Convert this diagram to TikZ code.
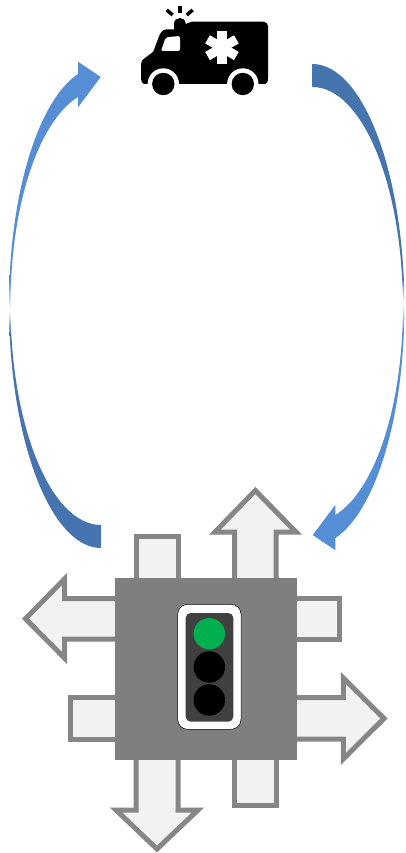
\documentclass[tikz,border=0pt]{standalone}
\usepackage{tikz}
\definecolor{BendDark}{HTML}{4674AE}
\definecolor{BendLight}{HTML}{558ED5}
\definecolor{LaneLine}{HTML}{868686}
\definecolor{LaneFill}{HTML}{F2F2F2}
\definecolor{Junction}{HTML}{7F7F7F}
\definecolor{Housing}{HTML}{404040}
\definecolor{Go}{HTML}{00B050}
\pgfdeclareverticalshading{BendFade}{100bp}{color(0bp)=(BendDark); color(47bp)=(BendDark); color(49.5bp)=(white); color(52.5bp)=(BendLight); color(100bp)=(BendLight)}
\tikzset{
  lane/.style={draw=LaneLine,fill=LaneFill,line width=5pt,miter limit=10},
  bendarrow/.style={shading=BendFade}
}

\begin{document}
\begin{tikzpicture}[x=1pt,y=-1pt]
        \useasboundingbox (0,0) rectangle (406,853);
        % return arrows
        \foreach \a in {0,180}
          \shade[bendarrow,shading angle=\a,rotate around={\a:(206.7,306)}] (101,548) .. controls (50.5,548) and (9,439) .. (9,305) .. controls (9,196) and (37.6,101) .. (78,74) -- (78,61.7) -- (100.7,77) -- (78,107.3) -- (78,97) .. controls (37.9,122) and (10.5,207) .. (10.5,305) .. controls (10.5,426) and (51,525) .. (101,525) -- cycle;
        % lanes
        \draw[lane] (136,590) -- (136,536) -- (178,536) -- (178,590);
        \draw[lane] (234.7,590) -- (234.7,532) -- (215,532) -- (255.3,490.5) -- (296,532) -- (276,532) -- (276,590);
        \draw[lane] (130,598.5) -- (64.5,598.5) -- (64.5,579) -- (25.5,618.7) -- (64.5,658) -- (64.5,639) -- (130,639);
        \draw[lane] (285,598.5) -- (339,598.5) -- (339,639) -- (285,639);
        \draw[lane] (130,697.5) -- (70,697.5) -- (70,739) -- (130,739);
        \draw[lane] (285,697.5) -- (343.3,697.5) -- (343.3,678) -- (384,718.5) -- (343.3,759) -- (343.3,739) -- (285,739);
        \draw[lane] (136,750) -- (136,810) -- (116,810) -- (157,849) -- (198,810) -- (178,810) -- (178,750);
        \draw[lane] (234.7,750) -- (234.7,805.5) -- (276,805.5) -- (276,750);
        \fill[Junction] (115,578) rectangle (297,759.7);
        % signal
        \draw[black,fill=white,line width=0.5pt,rounded corners=10pt] (177.7,604.3) rectangle (241,729.3);
        \fill[Housing,rounded corners=5pt] (185.7,613) rectangle (233.3,721.7);
        \foreach \y/\c in {633.7/Go,667/black,700/black}
          \fill[\c] (209.3,\y) circle (15.7pt);
        % ambulance
        \fill[black] (191.7,21.7) -- (263.3,21.7) .. controls (266,21.7) and (268,23.5) .. (268,26) -- (268,78) .. controls (268,81.5) and (267,84) .. (265,84) -- (144,84) .. controls (142,84) and (141,81) .. (141,78.3) -- (141,65) .. controls (141,62) and (142,60.3) .. (143.3,59.3) -- (153.3,51.7) -- (158.3,38.3) .. controls (160,33) and (162.5,29.3) .. (166.7,29.3) -- (174,29.3) -- (174,24) .. controls (174,20) and (177,18) .. (180,18) .. controls (183,18) and (185.7,20) .. (185.7,24) -- cycle;
        \fill[white,rounded corners=2pt] (165.7,37.3) -- (180,36) -- (180,51) -- (161,51) -- cycle;
        \foreach \a in {0,60,120}
          \fill[white,rotate around={\a:(222,47.7)}] (217.3,31) rectangle (226.7,64.3);
        \foreach \x in {163.3,242.8} {
          \fill[white] (\x,84) circle (15.7pt);
          \fill[black] (\x,84) circle (11.2pt);
        }
        \draw[black,line width=3.5pt] (180,6) -- (180,13.5);
        \draw[black,line width=3.5pt] (166.7,10) -- (172.7,15);
        \draw[black,line width=3.5pt] (186.7,15) -- (192.7,10);
      \end{tikzpicture}
\end{document}
